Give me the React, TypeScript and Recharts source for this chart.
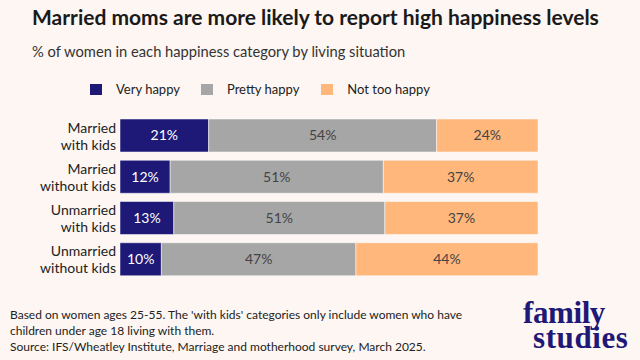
import { BarChart, Bar, XAxis, YAxis, LabelList } from 'recharts'

const categories = ['Married\nwith kids', 'Married\nwithout kids', 'Unmarried\nwith kids', 'Unmarried\nwithout kids']
const veryHappy = [21, 12, 13, 10]
const prettyHappy = [54, 51, 51, 47]
const notTooHappy = [24, 37, 37, 44]

const seriesNames = ['Very happy', 'Pretty happy', 'Not too happy']
const colors = ['#1e1877', '#a6a6a6', '#ffb77b']

const data = categories.map((c, i) => ({
  name: c,
  very: veryHappy[i],
  pretty: prettyHappy[i],
  notToo: notTooHappy[i],
}))

const font = 'Lato, "Open Sans", sans-serif'

function CategoryTick({ y, payload }: any) {
  const lines = String(payload.value).split('\n')
  return (
    <text x={116} y={y} textAnchor="end" fontFamily={font} fontSize={14} fill="#222">
      <tspan x={116} dy={-3}>{lines[0]}</tspan>
      <tspan x={116} dy={17}>{lines[1]}</tspan>
    </text>
  )
}

const pct = (v: any) => `${v}%`

export default function App() {
  return (
    <div style={{ position: 'absolute', left: 0, top: 0, width: 640, height: 360, background: '#fdf6f2', overflow: 'hidden' }}>
      <div style={{ position: 'absolute', left: 32, top: 4, fontFamily: font, fontWeight: 700, fontSize: 21, color: '#1a1a1a' }}>
        Married moms are more likely to report high happiness levels
      </div>
      <div style={{ position: 'absolute', left: 32, top: 42, fontFamily: font, fontSize: 14.7, color: '#333' }}>
        % of women in each happiness category by living situation
      </div>
      <div style={{ position: 'absolute', left: 90, top: 81, display: 'flex', fontFamily: font, fontSize: 13, color: '#222' }}>
        {seriesNames.map((n, i) => (
          <div key={n} style={{ display: 'flex', alignItems: 'center', marginRight: i === 0 ? 21 : 22 }}>
            <span style={{ width: 12, height: 11, background: colors[i], display: 'inline-block', marginRight: 14 }} />
            <span>{n}</span>
          </div>
        ))}
      </div>
      <div style={{ position: 'absolute', left: 0, top: 0 }}>
        <BarChart
          width={640}
          height={360}
          data={data}
          layout="vertical"
          stackOffset="expand"
          barSize={33}
          margin={{ top: 115, right: 102, bottom: 80, left: 0 }}
        >
          <XAxis type="number" hide domain={[0, 1]} />
          <YAxis type="category" dataKey="name" width={120} interval={0} axisLine={false} tickLine={false} tick={<CategoryTick />} />
          <Bar dataKey="very" name={seriesNames[0]} stackId="a" fill={colors[0]} stroke="#ffffff" strokeOpacity={0.5} isAnimationActive={false}>
            <LabelList dataKey="very" position="center" formatter={pct} fill="#ffffff" fontFamily={font} fontSize={14} />
          </Bar>
          <Bar dataKey="pretty" name={seriesNames[1]} stackId="a" fill={colors[1]} stroke="#ffffff" strokeOpacity={0.5} isAnimationActive={false}>
            <LabelList dataKey="pretty" position="center" formatter={pct} fill="#444" fontFamily={font} fontSize={14} />
          </Bar>
          <Bar dataKey="notToo" name={seriesNames[2]} stackId="a" fill={colors[2]} stroke="#ffffff" strokeOpacity={0.5} isAnimationActive={false}>
            <LabelList dataKey="notToo" position="center" formatter={pct} fill="#444" fontFamily={font} fontSize={14} />
          </Bar>
        </BarChart>
      </div>
      <div style={{ position: 'absolute', left: 10, top: 307, fontFamily: font, fontSize: 12, lineHeight: '16px', color: '#222', whiteSpace: 'nowrap' }}>
        Based on women ages 25-55. The 'with kids' categories only include women who have
        <br />
        children under age 18 living with them.
        <br />
        Source: IFS/Wheatley Institute, Marriage and motherhood survey, March 2025.
      </div>
      <div style={{ position: 'absolute', left: 523, top: 300, fontFamily: '"Liberation Serif", serif', fontWeight: 700, fontSize: 31, lineHeight: '25px', color: '#1e1877', letterSpacing: -0.4, whiteSpace: 'nowrap' }}>
        family
        <br />
        <span style={{ marginLeft: 10, letterSpacing: 0.6 }}>studies</span>
      </div>
    </div>
  )
}
